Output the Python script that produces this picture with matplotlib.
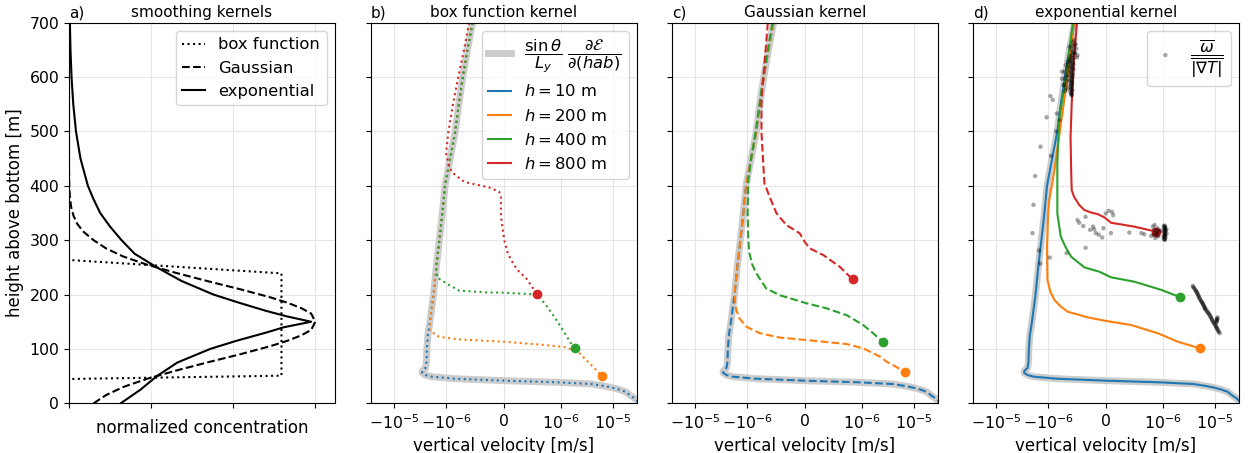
import numpy as np
import matplotlib
matplotlib.use("Agg")
from matplotlib import pyplot as plt
from matplotlib.ticker import NullLocator

# ---- panel a: smoothing kernels (concentration in tick units) ----
hab_box = [0, 44.7, 50.8, 239, 263.6, 700]
conc_box = [0, 0, 2.588, 2.588, 0, 0]

hab_gauss = [0, 15, 30, 45, 60, 75, 90, 105, 115, 125, 135, 150, 165, 175, 185, 195,
             210, 225, 240, 255, 270, 285, 300, 315, 330, 345, 360, 380, 400, 430, 700]
conc_gauss = [0.30, 0.45, 0.66, 0.95, 1.30, 1.68, 2.08, 2.45, 2.66, 2.83, 2.95, 3.0, 2.95,
              2.83, 2.66, 2.45, 2.08, 1.68, 1.30, 0.95, 0.66, 0.45, 0.30, 0.18, 0.10, 0.055,
              0.027, 0.01, 0.003, 0, 0]

hab_exp = [0, 25, 50, 75, 100, 115, 130, 140, 150, 160, 170, 185, 200, 225, 250, 275,
           300, 325, 350, 375, 400, 450, 500, 550, 600, 650, 700]
conc_exp = [0.63, 0.87, 1.07, 1.32, 1.72, 2.04, 2.40, 2.62, 2.95, 2.65, 2.40, 2.07, 1.76,
            1.37, 1.07, 0.80, 0.64, 0.50, 0.38, 0.30, 0.23, 0.14, 0.085, 0.052, 0.031,
            0.018, 0.011]

# ---- theory profile (also h = 10 m) ----
hab_theory = [700, 650, 600, 550, 500, 450, 400, 350, 300, 250, 200, 150, 125, 100, 75,
              65, 60, 56, 52, 49, 45.3, 41.6, 38.6, 35.5, 32, 29, 25, 21, 15, 9, 3, 0]
w_theory = [-5.4e-7, -6.3e-7, -7.1e-7, -7.8e-7, -8.4e-7, -9.3e-7, -1.05e-6, -1.18e-6,
            -1.35e-6, -1.55e-6, -1.75e-6, -2.05e-6, -2.25e-6, -2.35e-6, -2.4e-6, -2.5e-6,
            -2.85e-6, -2.9e-6, -2.5e-6, -1.9e-6, -8.6e-7, 1e-8, 9.4e-7, 3.8e-6, 6.5e-6,
            9.5e-6, 1.35e-5, 1.75e-5, 2.1e-5, 2.6e-5, 3.0e-5, 3.3e-5]

# ---- panel b: box function kernel ----
box_h200_hab = hab_theory[:12] + [133, 122.5, 117.7, 113.3, 107.2, 103, 92, 70.4, 50.2]
box_h200_w = w_theory[:12] + [-2.04e-6, -1.37e-6, -8e-7, 1e-8, 7.1e-7, 1.24e-6, 2.25e-6,
                              3.79e-6, 6.17e-6]
box_h400_hab = hab_theory[:10] + [231, 217.6, 207, 204, 203.4, 201, 200.5, 184, 159, 130,
                                  111.5, 101]
box_h400_w = w_theory[:10] + [-1.47e-6, -9.5e-7, -7.7e-7, -3e-7, 1e-8, 4.2e-7, 5.75e-7,
                              7.1e-7, 8.8e-7, 1.15e-6, 1.51e-6, 1.87e-6]
box_h800_hab = [700, 650, 600, 550, 500, 460, 440, 425, 415, 407, 397, 389, 380, 343, 300,
                276, 260, 245, 230, 213, 200.5]
box_h800_w = [-6.0e-7, -6.9e-7, -7.9e-7, -8.8e-7, -9.6e-7, -1.0e-6, -9.6e-7, -9.0e-7,
              -7.8e-7, -6.8e-7, -2.5e-7, -7.7e-8, -5e-8, -4.7e-8, 1e-8, 7e-8, 1.5e-7,
              2.4e-7, 3.9e-7, 5e-7, 5.75e-7]

# ---- panel c: Gaussian kernel ----
gauss_h200_hab = hab_theory[:11] + [185, 172, 156, 141, 129, 121, 116.4, 109, 101, 86,
                                    76.5, 58]
gauss_h200_w = w_theory[:11] + [-1.7e-6, -1.62e-6, -1.4e-6, -1.04e-6, -7.8e-7, -4.4e-7,
                                3e-8, 7.3e-7, 1.04e-6, 2.19e-6, 2.95e-6, 6.67e-6]
gauss_h400_hab = [700, 600, 500, 450, 410, 349, 300, 276, 255, 239, 211.5, 199, 184,
                  174.7, 162, 144, 128.7, 112]
gauss_h400_w = [-5.6e-7, -7.2e-7, -8.5e-7, -9.3e-7, -9.8e-7, -9.9e-7, -9.8e-7, -9.6e-7,
                -9.1e-7, -8.4e-7, -6.7e-7, -4.4e-7, 3e-8, 3.8e-7, 7.3e-7, 1.04e-6,
                1.63e-6, 2.54e-6]
gauss_h800_hab = [700, 558, 497, 405, 380, 349.5, 328, 312.7, 297, 285, 272.8, 251, 228]
gauss_h800_w = [-6.4e-7, -7.5e-7, -7.5e-7, -7e-7, -6.1e-7, -4.9e-7, -3.2e-7, -8.7e-8, 0,
                8.7e-8, 3.2e-7, 6.1e-7, 8.3e-7]

# ---- panel d: exponential kernel ----
exp_h200_hab = [700, 600, 521, 429, 410, 374, 349.5, 288, 226.8, 205, 190, 178, 168.5,
                158, 152, 144, 128.7, 113.3, 101]
exp_h200_w = [-5.5e-7, -6.6e-7, -7.7e-7, -8.9e-7, -9.2e-7, -9.8e-7, -1.0e-6, -1.05e-6,
              -1.03e-6, -9.6e-7, -8.9e-7, -7.8e-7, -6.6e-7, -3.1e-7, -2e-8, 4.4e-7,
              9.1e-7, 1.9e-6, 5.1e-6]
exp_h400_hab = [700, 600.7, 521, 441, 374, 349.5, 306.5, 288, 269.6, 250, 242, 231.7,
                223.6, 208.4, 195.5]
exp_h400_w = [-5.7e-7, -6.9e-7, -8.1e-7, -8.4e-7, -8.4e-7, -8.4e-7, -7.8e-7, -7.0e-7,
              -6e-7, -3.7e-7, -1.1e-7, 9.4e-8, 5e-7, 9.7e-7, 2.07e-6]
exp_h800_hab = [700, 631, 552, 490, 429, 392, 380, 364.7, 355.5, 350.6, 348, 342, 332,
                329, 324.8, 315.6]
exp_h800_w = [-5.0e-7, -5.5e-7, -5.9e-7, -6.1e-7, -6.0e-7, -5.9e-7, -5.5e-7, -4.6e-7,
              -3.7e-7, -2.5e-7, -1.4e-7, -2.3e-8, 9.4e-8, 2.7e-7, 5e-7, 8.8e-7]

# ---- panel d: omega / |grad T| points ----
ratio_top_hab = [668, 664, 660, 657, 654, 650, 647, 644, 641, 638, 635, 632, 629, 626,
                 623, 620, 617, 614, 611, 608, 605, 602, 599, 596, 593, 590, 587, 584,
                 581, 578, 575, 572, 569, 566, 628, 622, 616, 610, 604, 598, 592, 586,
                 580, 574, 660, 652, 644, 636,
                 645, 640, 636, 631, 627, 624, 619, 615, 612, 607, 603, 600, 595, 591,
                 588, 583, 579, 576, 571, 568, 633, 625, 618, 609, 601, 594, 585, 577]
ratio_top_w = [-5.5e-7, -5.7e-7, -5.4e-7, -5.8e-7, -5.5e-7, -5.9e-7, -5.6e-7, -5.4e-7,
               -5.8e-7, -6.1e-7, -5.6e-7, -5.9e-7, -6.2e-7, -5.7e-7, -5.6e-7, -6.0e-7,
               -5.8e-7, -5.6e-7, -6.1e-7, -5.9e-7, -5.7e-7, -6.0e-7, -5.8e-7, -5.9e-7,
               -6.1e-7, -5.8e-7, -6.0e-7, -5.9e-7, -6.1e-7, -6.0e-7, -5.8e-7, -6.1e-7,
               -6.0e-7, -5.9e-7, -6.6e-7, -6.9e-7, -6.7e-7, -7.1e-7, -6.8e-7, -7.0e-7,
               -6.8e-7, -7.2e-7, -6.9e-7, -7.1e-7, -5.2e-7, -5.1e-7, -5.3e-7, -5.0e-7,
               -5.7e-7, -5.9e-7, -5.8e-7, -6.0e-7, -5.8e-7, -6.0e-7, -5.9e-7, -5.8e-7,
               -6.0e-7, -5.9e-7, -6.1e-7, -5.9e-7, -6.0e-7, -5.9e-7, -6.0e-7, -5.9e-7,
               -6.0e-7, -5.9e-7, -6.0e-7, -5.9e-7, -6.4e-7, -6.5e-7, -6.3e-7, -6.4e-7,
               -6.6e-7, -6.4e-7, -6.5e-7, -6.6e-7]
ratio_scatter_hab = [640, 656, 610, 597, 585, 565, 558, 533, 526, 521, 500, 472, 455, 418,
                     365, 313, 281, 268, 257, 337, 332, 343, 326, 319, 313, 310, 305, 322,
                     349, 354, 352, 346, 313, 314, 313, 311, 308, 286, 276, 325, 320]
ratio_scatter_w = [-4.9e-7, -6.3e-7, -7.6e-7, -7.6e-7, -7.3e-7, -9.6e-7, -9.2e-7,
                   -8.5e-7, -1.07e-6, -8.0e-7, -8.6e-7, -1.4e-6, -9.5e-7, -1.78e-6,
                   -1.92e-6, -2.0e-6, -1.5e-6, -9.7e-7, -1.42e-6, -4.9e-7, -4.6e-7,
                   -3.5e-7, -3.9e-7, -2.7e-7, -1.7e-7, -1.2e-7, -6e-8, -4e-8, 0, 5e-8,
                   1.1e-7, 1.3e-7, 9e-8, 4.1e-7, 6.2e-7, 6.7e-7, 7.9e-7, -3.5e-7, -6.8e-7,
                   -2.2e-7, -2.0e-7]
ratio_end_hab = [328, 325, 322, 319, 316, 313, 310, 307, 304, 326, 323, 320, 317, 314, 311,
                 308, 305, 302, 320, 312, 324, 316, 309, 301, 318, 306,
                 327, 321, 315, 309, 303, 325, 319, 313, 307, 301, 317, 311]
ratio_end_w = [8.5e-7, 8.2e-7, 9.0e-7, 8.4e-7, 9.3e-7, 8.7e-7, 8.3e-7, 9.1e-7, 8.6e-7,
               1.02e-6, 1.08e-6, 1.05e-6, 1.12e-6, 1.04e-6, 1.09e-6, 1.06e-6, 1.1e-6,
               1.03e-6, 1.15e-6, 1.16e-6, 1.06e-6, 1.07e-6, 1.05e-6, 1.08e-6, 9.6e-7,
               1.0e-6,
               1.06e-6, 1.07e-6, 1.06e-6, 1.07e-6, 1.06e-6, 1.08e-6, 1.08e-6, 1.07e-6,
               1.08e-6, 1.06e-6, 8.8e-7, 8.9e-7]
ratio_streak_hab = [216, 214, 212, 210, 208, 206, 205, 203, 201, 199, 197, 195, 193, 191,
                    189, 187, 186, 184, 182.6, 181, 179, 177, 176, 174, 173, 171, 169, 167,
                    166, 164, 162, 160, 158, 156, 154, 152, 150, 148, 146, 144, 142, 140,
                    139, 137, 135, 133, 131, 129, 158, 156, 155, 153, 152, 150, 148]
ratio_streak_w = [3.7e-6, 3.8e-6, 3.9e-6, 4.05e-6, 4.2e-6, 4.3e-6, 4.4e-6, 4.5e-6, 4.6e-6,
                  4.7e-6, 4.8e-6, 4.9e-6, 5.0e-6, 5.15e-6, 5.3e-6, 5.45e-6, 5.6e-6, 5.7e-6,
                  5.8e-6, 5.95e-6, 6.1e-6, 6.2e-6, 6.3e-6, 6.4e-6, 6.5e-6, 6.75e-6, 7.0e-6,
                  7.2e-6, 7.4e-6, 7.65e-6, 7.9e-6, 8.1e-6, 8.3e-6, 8.5e-6, 8.7e-6, 8.9e-6,
                  9.1e-6, 9.4e-6, 9.7e-6, 1.0e-5, 1.03e-5, 1.05e-5, 1.07e-5, 1.1e-5,
                  1.12e-5, 1.15e-5, 1.18e-5, 1.23e-5, 1.11e-5, 1.1e-5, 1.09e-5, 1.085e-5,
                  1.08e-5, 1.07e-5, 1.05e-5]

ratio_hab = ratio_top_hab + ratio_scatter_hab + ratio_end_hab + ratio_streak_hab
ratio_w = ratio_top_w + ratio_scatter_w + ratio_end_w + ratio_streak_w

colors = ['tab:blue', 'tab:orange', 'tab:green', 'tab:red']
h_labels = [r'$h = 10$ m', r'$h = 200$ m', r'$h = 400$ m', r'$h = 800$ m']
xticks_w = [-1e-5, -1e-6, 0, 1e-6, 1e-5]

panels = [
    ('b)', 'box function kernel', ':',
     [(box_h200_hab, box_h200_w), (box_h400_hab, box_h400_w), (box_h800_hab, box_h800_w)]),
    ('c)', 'Gaussian kernel', '--',
     [(gauss_h200_hab, gauss_h200_w), (gauss_h400_hab, gauss_h400_w),
      (gauss_h800_hab, gauss_h800_w)]),
    ('d)', 'exponential kernel', '-',
     [(exp_h200_hab, exp_h200_w), (exp_h400_hab, exp_h400_w), (exp_h800_hab, exp_h800_w)]),
]

fig = plt.figure(figsize=(12.5, 4.53), dpi=100)
lefts = [0.0552, 0.29656, 0.53736, 0.77816]
axs = [fig.add_axes([l, 0.1097, 0.2128, 0.8402]) for l in lefts]

# panel a
ax = axs[0]
ax.plot(conc_box, hab_box, ':', color='k', lw=1.5, label='box function')
ax.plot(conc_gauss, hab_gauss, '--', color='k', lw=1.5, label='Gaussian')
ax.plot(conc_exp, hab_exp, '-', color='k', lw=1.5, label='exponential')
ax.set_xlim(0, 3.24)
ax.set_xticks([0, 1, 2, 3])
ax.set_xticklabels([])
ax.set_xlabel('normalized concentration', fontsize=12)
ax.set_ylabel('height above bottom [m]', fontsize=12)
ax.legend(loc='upper right', fontsize=11.8, handlelength=1.4)
ax.set_title('a)', loc='left', fontsize=11, pad=4)
ax.set_title('smoothing kernels', fontsize=11, pad=4)

handles = []
for ax, (tag, title, ls, series) in zip(axs[1:], panels):
    th, = ax.plot(w_theory, hab_theory, '-', color='0.8', lw=5,
                  label=r'$\dfrac{\sin\theta}{L_y}\ \dfrac{\partial\mathcal{E}}{\partial(hab)}$')
    l10, = ax.plot(w_theory, hab_theory, ls, color=colors[0], lw=1.5, label=h_labels[0])
    lines = [th, l10]
    for (hab, w), c, lab in zip(series, colors[1:], h_labels[1:]):
        ln, = ax.plot(w, hab, ls, color=c, lw=1.5, label=lab)
        ax.plot(w[-1], hab[-1], 'o', color=c, ms=6)
        lines.append(ln)
    handles = lines
    ax.set_xscale('symlog', linthresh=1e-6, linscale=1)
    ax.set_xlim(-2.85e-5, 2.85e-5)
    ax.set_xticks(xticks_w)
    ax.xaxis.set_minor_locator(NullLocator())
    ax.set_yticklabels([])
    ax.set_xlabel('vertical velocity [m/s]', fontsize=12)
    ax.set_title(tag, loc='left', fontsize=11, pad=4)
    ax.set_title(title, fontsize=11, pad=4)

# legend of panel b uses the solid lines of panel d
solid = [plt.Line2D([], [], color=h.get_color(), lw=h.get_linewidth(), ls='-')
         for h in handles]
axs[1].legend(solid, [h.get_label() for h in handles], loc='upper right', fontsize=11.8,
              handlelength=1.4)

sc = axs[3].scatter(ratio_w, ratio_hab, s=10, color='k', alpha=0.35, edgecolors='none',
                    zorder=5,
                    label=r'$\dfrac{\overline{\omega}}{\overline{|\nabla T|}}$')
axs[3].legend(handles=[sc], loc='upper right', fontsize=11.8, handlelength=1.4)

for ax in axs:
    ax.set_ylim(0, 700)
    ax.set_yticks(range(0, 701, 100))
    ax.grid(True, color='0.9', lw=0.8)
    ax.set_axisbelow(True)
    ax.tick_params(labelsize=11.3)

fig.savefig('out.png', dpi=100)
